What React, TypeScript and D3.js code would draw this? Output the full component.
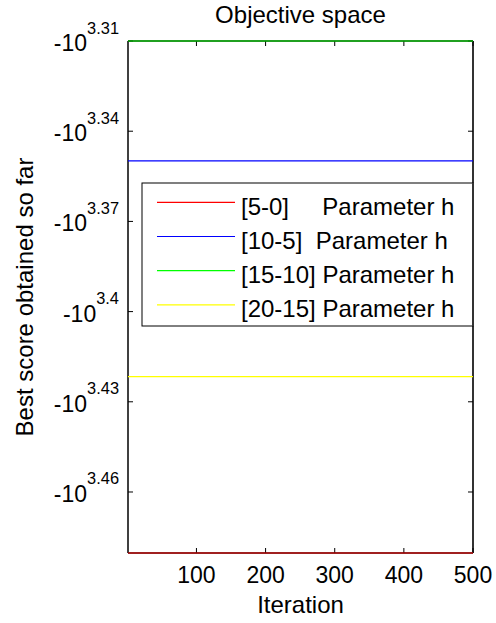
import React from 'react';
import * as d3 from 'd3';

// Convergence curves: best score per iteration for each parameter band
const iterations = [1, 500];
const seriesLabels = [
  '[5-0]     Parameter h',
  '[10-5]  Parameter h',
  '[15-10] Parameter h',
  '[20-15] Parameter h',
];
const seriesColors = ['#ff0000', '#0000ff', '#00ff00', '#ffff00'];
const redScores = [-3022, -3022];
const blueScores = [-2238, -2238];
const greenScores = [-2041.7, -2041.7];
const yellowScores = [-2640, -2640];
const xTicks = [100, 200, 300, 400, 500];
const yTickExponents = ['3.31', '3.34', '3.37', '3.4', '3.43', '3.46'];

const allSeries = [redScores, blueScores, greenScores, yellowScores];

const W = 496;
const H = 623;
const left = 128;
const right = 473;
const top = 41;
const bottom = 553;
const FONT = "'Liberation Sans', Arial, Helvetica, sans-serif";
const FS = 24;
const TICK_FS = 23;
const SUP_FS = 16.4;
const TICK = 5;

export default function App() {
  const x = d3.scaleLinear().domain([iterations[0], iterations[iterations.length - 1]]).range([left, right]);
  const ext = d3.extent(allSeries.flat()) as [number, number];
  const y = d3.scaleLog().domain(ext).range([bottom, top]);

  const line = d3
    .line<number>()
    .x((_, i) => x(iterations[i]))
    .y((d) => y(d));

  const legendX = 142;
  const legendY = 183;
  const legendW = right - legendX;
  const legendH = 143;
  const rowGap = 34.2;

  return (
    <svg
      width={W}
      height={H}
      style={{ position: 'absolute', left: 0, top: 0, background: '#fff' }}
      fontFamily={FONT}
    >
      <rect x={0} y={0} width={W} height={H} fill="#fff" />

      {/* axes frame */}
      <line x1={left} x2={left} y1={top} y2={bottom} stroke="#000" strokeWidth={1.5} />
      <line x1={left} x2={right} y1={bottom} y2={bottom} stroke="#000" strokeWidth={1.5} />
      <line x1={left} x2={right} y1={top} y2={top} stroke="#000" strokeWidth={1.5} />
      <line x1={right} x2={right} y1={top} y2={bottom} stroke="#333" strokeWidth={2} />

      {/* x ticks */}
      {xTicks.map((t) => (
        <g key={'xt' + t}>
          <line x1={x(t)} x2={x(t)} y1={bottom} y2={bottom - TICK} stroke="#000" />
          <line x1={x(t)} x2={x(t)} y1={top} y2={top + TICK} stroke="#000" />
          <text x={x(t)} y={583} textAnchor="middle" fontSize={TICK_FS} fill="#000">
            {t}
          </text>
        </g>
      ))}

      {/* y ticks: negative log scale */}
      {yTickExponents.map((e) => {
        const v = -Math.pow(10, +e);
        const yy = y(v);
        return (
          <g key={'yt' + e}>
            <line x1={left} x2={left + TICK} y1={yy} y2={yy} stroke="#000" />
            <line x1={right} x2={right - TICK} y1={yy} y2={yy} stroke="#000" />
            <text x={119} y={yy + 10} textAnchor="end" fontSize={TICK_FS} fill="#000">
              -10
              <tspan dy={-17.5} fontSize={SUP_FS}>
                {e}
              </tspan>
            </text>
          </g>
        );
      })}

      {/* series */}
      {allSeries.map((s, i) => (
        <path key={'s' + i} d={line(s) || ''} fill="none" stroke={seriesColors[i]} strokeWidth={1.2} />
      ))}

      {/* legend */}
      <rect x={legendX} y={legendY} width={legendW} height={legendH} fill="#fff" stroke="#000" strokeWidth={1} />
      <line x1={right} x2={right} y1={legendY} y2={legendY + legendH} stroke="#333" strokeWidth={2} />
      {seriesLabels.map((lab, i) => {
        const ly = 202.3 + i * rowGap;
        return (
          <g key={'lg' + i}>
            <line x1={157} x2={235} y1={ly} y2={ly} stroke={seriesColors[i]} strokeWidth={1.2} />
            <text x={241} y={ly + 12.5} fontSize={FS} fill="#000" style={{ whiteSpace: 'pre' }} xmlSpace="preserve">
              {lab}
            </text>
          </g>
        );
      })}

      {/* titles */}
      <text x={(left + right) / 2} y={23} textAnchor="middle" fontSize={FS} fill="#000">
        Objective space
      </text>
      <text x={(left + right) / 2} y={613} textAnchor="middle" fontSize={FS} fill="#000">
        Iteration
      </text>
      <text
        transform={`translate(33,${(top + bottom) / 2}) rotate(-90)`}
        textAnchor="middle"
        fontSize={FS}
        fill="#000"
      >
        Best score obtained so far
      </text>
    </svg>
  );
}
